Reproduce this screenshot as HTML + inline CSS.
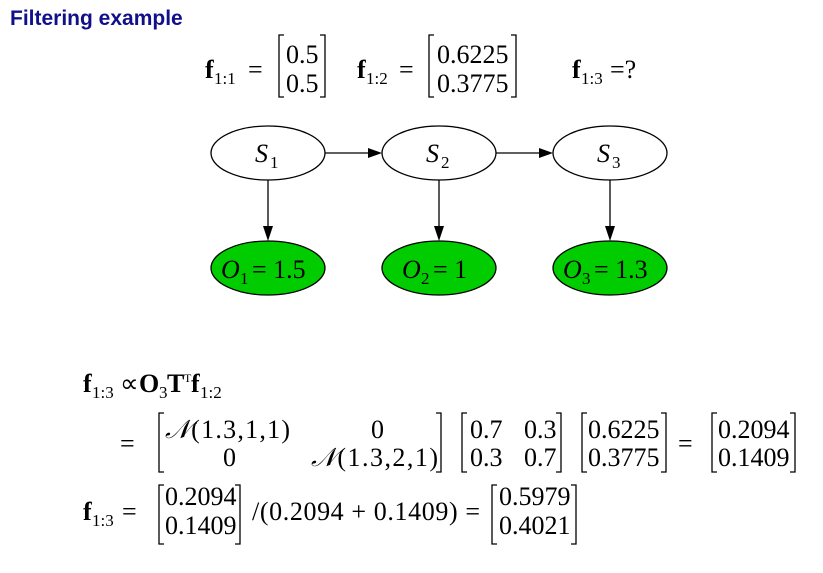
<!DOCTYPE html>
<html><head><meta charset="utf-8"><style>
body{margin:0;background:#fff;}
svg text{font-family:"Liberation Serif",serif;font-size:26px;fill:#000;}
.i{font-style:italic}
.b{font-weight:bold}
.s{font-size:17px}
</style></head><body>
<svg width="823" height="568" xmlns="http://www.w3.org/2000/svg">
<text x="10" y="25" style="font-family:'Liberation Sans',sans-serif;font-weight:bold;font-size:21px;fill:#10108a">Filtering example</text>
<g fill="none" stroke="#000" stroke-width="1.3">
<path d="M284 35h-5v62h5M320 35h5v62h-5"/>
<path d="M434 35h-5v62h5M511 35h5v62h-5"/>
</g>
<text x="205" y="78" class="b">f</text><text x="214" y="84" class="s">1:1</text><text x="248" y="78">=</text>
<text x="286" y="63">0.5</text><text x="286" y="92">0.5</text>
<text x="357" y="78" class="b">f</text><text x="366" y="84" class="s">1:2</text><text x="399" y="78">=</text>
<text x="437" y="63">0.6225</text><text x="437" y="92">0.3775</text>
<text x="572" y="78" class="b">f</text><text x="581" y="84" class="s">1:3</text><text x="610" y="78">=?</text>
<g stroke="#000" stroke-width="1.3">
<ellipse cx="268" cy="153" rx="57" ry="27" fill="#fff"/>
<ellipse cx="439" cy="153" rx="57" ry="27" fill="#fff"/>
<ellipse cx="610" cy="153" rx="57" ry="27" fill="#fff"/>
<ellipse cx="268" cy="268" rx="57" ry="27" fill="#00cc00"/>
<ellipse cx="439" cy="268" rx="57" ry="27" fill="#00cc00"/>
<ellipse cx="610" cy="268" rx="57" ry="27" fill="#00cc00"/>
<line x1="325" y1="153" x2="368" y2="153"/><line x1="496" y1="153" x2="539" y2="153"/>
<line x1="268" y1="180" x2="268" y2="226"/><line x1="439" y1="180" x2="439" y2="226"/><line x1="610" y1="180" x2="610" y2="226"/>
</g>
<g fill="#000">
<path d="M382 153l-14-5v10z"/><path d="M553 153l-14-5v10z"/>
<path d="M268 241l-5-15h10z"/><path d="M439 241l-5-15h10z"/><path d="M610 241l-5-15h10z"/>
</g>
<text x="255" y="162" class="i">S</text><text x="270" y="168" class="s">1</text>
<text x="426" y="162" class="i">S</text><text x="441" y="168" class="s">2</text>
<text x="597" y="162" class="i">S</text><text x="612" y="168" class="s">3</text>
<text x="221" y="278" class="i">O</text><text x="240" y="284" class="s">1</text><text x="252" y="278">= 1.5</text>
<text x="402" y="278" class="i">O</text><text x="421" y="284" class="s">2</text><text x="433" y="278">= 1</text>
<text x="563" y="278" class="i">O</text><text x="582" y="284" class="s">3</text><text x="594" y="278">= 1.3</text>
<text x="83" y="392" class="b">f</text><text x="92" y="398" class="s">1:3</text><text x="120" y="392">∝</text>
<text x="139" y="392" class="b">O</text><text x="159" y="398" class="s">3</text><text x="167" y="392" class="b">T</text><text x="184" y="382" style="font-size:12px">T</text><text x="191" y="392" class="b">f</text><text x="200" y="398" class="s">1:2</text>
<g fill="none" stroke="#000" stroke-width="1.3">
<path d="M164 413h-5v59h5M436 413h5v59h-5"/>
<path d="M467 413h-5v59h5M556 413h5v59h-5"/>
<path d="M587 413h-5v59h5M661 413h5v59h-5"/>
<path d="M717 413h-5v59h5M790 413h5v59h-5"/>
<path d="M164 485h-5v59h5M235 485h5v59h-5"/>
<path d="M497 485h-5v59h5M571 485h5v59h-5"/>
</g>
<text x="120" y="452">=</text>
<text x="165" y="438" textLength="125"><tspan class="i">𝒩</tspan>(1.3,1,1)</text><text x="371" y="438">0</text>
<text x="223" y="466">0</text><text x="311" y="466" textLength="127"><tspan class="i">𝒩</tspan>(1.3,2,1)</text>
<text x="470" y="438">0.7</text><text x="524" y="438">0.3</text>
<text x="470" y="466">0.3</text><text x="524" y="466">0.7</text>
<text x="588" y="438">0.6225</text><text x="588" y="466">0.3775</text>
<text x="678" y="452">=</text>
<text x="718" y="438">0.2094</text><text x="718" y="466">0.1409</text>
<text x="83" y="520" class="b">f</text><text x="92" y="526" class="s">1:3</text><text x="122" y="520">=</text>
<text x="165" y="505">0.2094</text><text x="165" y="534">0.1409</text>
<text x="252" y="520" textLength="228">/(0.2094 + 0.1409) =</text>
<text x="499" y="505">0.5979</text><text x="499" y="534">0.4021</text>
</svg>
</body></html>
